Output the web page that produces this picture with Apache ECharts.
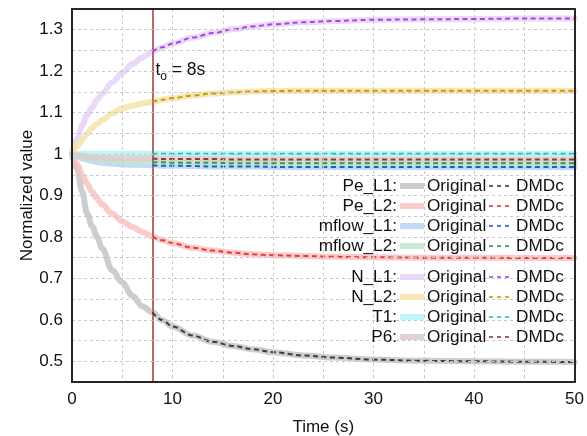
<!DOCTYPE html>
<html>
<head>
<meta charset="utf-8">
<style>
  html, body { margin: 0; padding: 0; background: #fff; }
  #chart { width: 587px; height: 436px; }
</style>
<script src="https://cdn.jsdelivr.net/npm/echarts@6/dist/echarts.min.js"></script>
</head>
<body>
<div id="chart"></div>
<script>
// Sample times (s) of the simulated responses
const times = [0, 0.5, 1, 1.5, 2, 2.5, 3, 4, 5, 6, 7, 8, 9, 10, 12, 14, 16, 18, 20, 23, 26, 30, 35, 40, 45, 50];

// Normalized responses of each signal
const peL1    = [1.000, 0.965, 0.910, 0.857, 0.826, 0.800, 0.772, 0.720, 0.690, 0.658, 0.633, 0.618, 0.599, 0.584, 0.562, 0.547, 0.537, 0.529, 0.522, 0.514, 0.509, 0.504, 0.501, 0.500, 0.499, 0.498];
const peL2    = [1.000, 0.975, 0.950, 0.928, 0.909, 0.893, 0.878, 0.856, 0.838, 0.824, 0.812, 0.801, 0.792, 0.785, 0.774, 0.767, 0.762, 0.758, 0.756, 0.754, 0.752, 0.751, 0.750, 0.750, 0.749, 0.749];
const mflowL1 = [1.000, 0.995, 0.990, 0.986, 0.983, 0.981, 0.979, 0.977, 0.975, 0.974, 0.974, 0.973, 0.972, 0.972, 0.971, 0.970, 0.970, 0.970, 0.969, 0.969, 0.969, 0.969, 0.969, 0.969, 0.969, 0.969];
const mflowL2 = [1.000, 0.997, 0.994, 0.991, 0.989, 0.987, 0.986, 0.984, 0.982, 0.981, 0.981, 0.980, 0.980, 0.979, 0.979, 0.979, 0.978, 0.978, 0.978, 0.978, 0.978, 0.978, 0.978, 0.978, 0.978, 0.978];
const nL1     = [1.000, 1.037, 1.068, 1.093, 1.113, 1.131, 1.146, 1.173, 1.196, 1.217, 1.233, 1.247, 1.258, 1.267, 1.281, 1.292, 1.301, 1.308, 1.313, 1.318, 1.321, 1.324, 1.325, 1.326, 1.327, 1.327];
const nL2     = [1.000, 1.018, 1.034, 1.049, 1.062, 1.073, 1.082, 1.098, 1.110, 1.117, 1.122, 1.126, 1.131, 1.135, 1.141, 1.146, 1.149, 1.151, 1.152, 1.153, 1.153, 1.153, 1.153, 1.153, 1.153, 1.153];
const t1      = [1.000, 1.000, 1.001, 1.001, 1.001, 1.001, 1.001, 1.001, 1.001, 1.001, 1.001, 1.001, 1.001, 1.001, 1.001, 1.001, 1.001, 1.001, 1.001, 1.001, 1.001, 1.001, 1.001, 1.001, 1.001, 1.001];
const p6      = [1.000, 0.998, 0.996, 0.994, 0.993, 0.992, 0.991, 0.990, 0.990, 0.989, 0.989, 0.989, 0.988, 0.988, 0.988, 0.988, 0.987, 0.987, 0.987, 0.987, 0.987, 0.987, 0.987, 0.987, 0.987, 0.987];

// Signal names, original (thick, light) and DMDc (dashed) colours
const signalNames = ['Pe_L1', 'Pe_L2', 'mflow_L1', 'mflow_L2', 'N_L1', 'N_L2', 'T1', 'P6'];
const signalValues = [peL1, peL2, mflowL1, mflowL2, nL1, nL2, t1, p6];
const origColors = ['#c4c4c4', '#f9c2c2', '#b9d3f6', '#bfe6cf', '#e8d3f6', '#f6e3a9', '#b6f3f3', '#dccbcb'];
const dmdColors  = ['#3c3c3c', '#e8383a', '#1a5fd0', '#23a055', '#a845e0', '#c99a0a', '#10c8c8', '#8a3c3c'];

// DMDc reconstruction starts at t0
const t0 = 8;
const t0Index = times.indexOf(t0);

const FONT = "'Liberation Sans', Arial, sans-serif";
const TXT = '#111';
const AXIS = '#262626';

const series = [];
signalNames.forEach((name, i) => {
  series.push({
    name: name + ' Original',
    type: 'line',
    data: times.map((t, k) => [t, signalValues[i][k]]),
    smooth: 0.35,
    smoothMonotone: 'x',
    showSymbol: false,
    lineStyle: { color: origColors[i], width: 6, opacity: 0.85, cap: 'round' },
    z: 2
  });
});
signalNames.forEach((name, i) => {
  series.push({
    name: name + ' DMDc',
    type: 'line',
    data: times.slice(t0Index).map((t, k) => [t, signalValues[i][t0Index + k]]),
    smooth: 0.35,
    smoothMonotone: 'x',
    showSymbol: false,
    lineStyle: { color: dmdColors[i], width: 2, type: [5, 3.5] },
    z: 4
  });
});
// vertical marker at t0
series[0].markLine = {
  silent: true,
  symbol: ['none', 'none'],
  label: { show: false },
  lineStyle: { color: '#b46a6a', width: 2, type: 'solid' },
  data: [{ xAxis: t0 }],
  z: 3
};

const chart = echarts.init(document.getElementById('chart'), null, { renderer: 'canvas' });

const gridDash = { show: true, lineStyle: { color: '#c9c9c9', width: 1, type: [3, 3] } };
const frameLine = { show: true, onZero: false, lineStyle: { color: AXIS, width: 2 } };

chart.setOption({
  animation: false,
  backgroundColor: '#fff',
  textStyle: { fontFamily: FONT },
  grid: { left: 72, right: 9, top: 9, bottom: 54 },
  xAxis: [{
    type: 'value', min: 0, max: 50, interval: 5,
    axisLine: frameLine,
    axisTick: { show: false },
    axisLabel: {
      fontSize: 17, color: TXT, fontFamily: FONT, margin: 9,
      formatter: v => (Math.round(v) % 10 === 0 ? String(Math.round(v)) : '')
    },
    splitLine: gridDash,
    z: 5
  }, {
    // top frame edge
    type: 'value', position: 'top', min: 0, max: 50, interval: 5,
    axisLine: frameLine, axisTick: { show: false }, axisLabel: { show: false },
    splitLine: { show: false }, z: 5
  }],
  yAxis: [{
    type: 'value', min: 0.45, max: 1.35, interval: 0.05,
    axisLine: frameLine,
    axisTick: { show: false },
    axisLabel: {
      fontSize: 17, color: TXT, fontFamily: FONT, margin: 9,
      formatter: v => (Math.round(v * 100) % 10 === 0 ? String(parseFloat(v.toFixed(1))) : '')
    },
    splitLine: gridDash,
    z: 5
  }, {
    // right frame edge
    type: 'value', position: 'right', min: 0.45, max: 1.35, interval: 0.05,
    axisLine: frameLine, axisTick: { show: false }, axisLabel: { show: false },
    splitLine: { show: false }, z: 5
  }],
  series: series
});

// axis titles, t0 annotation and the two-column legend
const x0 = chart.convertToPixel({ xAxisIndex: 0 }, t0);
const xMid = (chart.convertToPixel({ xAxisIndex: 0 }, 0) + chart.convertToPixel({ xAxisIndex: 0 }, 50)) / 2;
const yMid = (chart.convertToPixel({ yAxisIndex: 0 }, 0.45) + chart.convertToPixel({ yAxisIndex: 0 }, 1.35)) / 2;
const yAnn = chart.convertToPixel({ yAxisIndex: 0 }, 1.199);
const graphics = [
  { type: 'text', x: xMid, y: 427, z: 10,
    style: { text: 'Time (s)', font: `17px ${FONT}`, fill: TXT, align: 'center', verticalAlign: 'middle' } },
  { type: 'text', x: 27, y: yMid, rotation: Math.PI / 2, z: 10,
    style: { text: 'Normalized value', font: `17px ${FONT}`, fill: TXT, align: 'center', verticalAlign: 'middle' } },
  { type: 'text', left: x0 + 3, top: yAnn - 10, z: 10,
    style: { text: 't', font: `17.5px ${FONT}`, fill: TXT } },
  { type: 'text', left: x0 + 7.8, top: yAnn - 1, z: 10,
    style: { text: 'o', font: `12px ${FONT}`, fill: TXT } },
  { type: 'text', left: x0 + 14.5, top: yAnn - 10, z: 10,
    style: { text: ' = 8s', font: `17.5px ${FONT}`, fill: TXT } }
];

const rowY = [186, 206, 226, 246, 277, 297, 317, 337];
signalNames.forEach((name, i) => {
  const y = rowY[i];
  graphics.push(
    { type: 'text', x: 397, y: y, z: 10,
      style: { text: name + ':', font: `17.2px ${FONT}`, fill: TXT, align: 'right', verticalAlign: 'middle' } },
    { type: 'line', z: 10,
      shape: { x1: 400, y1: y, x2: 424, y2: y },
      style: { stroke: origColors[i], lineWidth: 6, opacity: 0.85 } },
    { type: 'text', x: 427, y: y, z: 10,
      style: { text: 'Original', font: `17.2px ${FONT}`, fill: TXT, align: 'left', verticalAlign: 'middle' } },
    { type: 'line', z: 10,
      shape: { x1: 489, y1: y, x2: 513, y2: y },
      style: { stroke: dmdColors[i], lineWidth: 1.6, lineDash: [4, 4] } },
    { type: 'text', x: 516, y: y, z: 10,
      style: { text: 'DMDc', font: `17.2px ${FONT}`, fill: TXT, align: 'left', verticalAlign: 'middle' } }
  );
});
chart.setOption({ graphic: graphics });
</script>
</body>
</html>
